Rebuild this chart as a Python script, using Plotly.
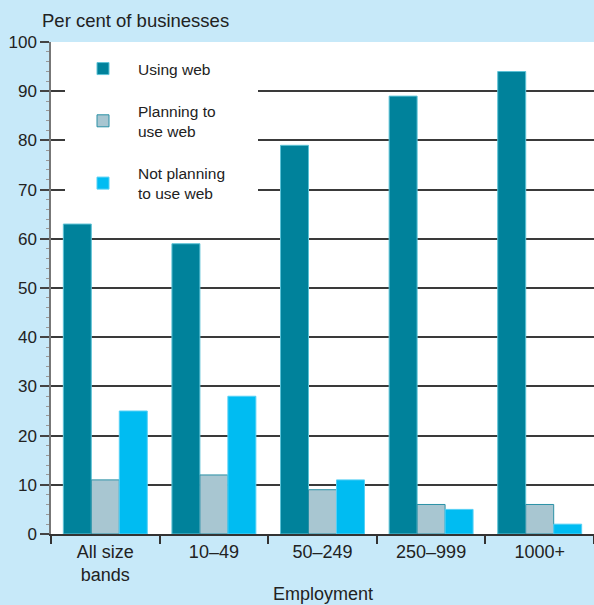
import plotly.graph_objects as go

categories = ["All size<br>bands", "10–49", "50–249", "250–999", "1000+"]
using_web = [63, 59, 79, 89, 94]
planning = [11, 12, 9, 6, 6]
not_planning = [25, 28, 11, 5, 2]
y_ticks = [0, 10, 20, 30, 40, 50, 60, 70, 80, 90, 100]

BG = "#c7e9f9"
FONT = "Liberation Sans, Arial, sans-serif"
W, H = 594, 605
ML, MR, MT, MB = 51, 0, 42, 71
PW = W - ML - MR
PH = H - MT - MB

def px_x(p):
    return (p - ML) / PW

def px_y(p):
    return 1 - (p - MT) / PH

fig = go.Figure()
fig.add_trace(go.Bar(x=categories, y=using_web, name="Using web", legendgroup="a",
                     marker=dict(color="#00829b", line=dict(color="#5ec3d6", width=1))))
fig.add_trace(go.Bar(x=categories, y=planning, name="Planning to<br>use web", legendgroup="b",
                     marker=dict(color="#a8c6d1", line=dict(color="#2a90a6", width=1))))
fig.add_trace(go.Bar(x=categories, y=not_planning, name="Not planning<br>to use web", legendgroup="c",
                     marker=dict(color="#00bcf2", line=dict(color="#55d0f5", width=1))))

fig.update_layout(
    width=W, height=H,
    margin=dict(l=ML, r=MR, t=MT, b=MB, pad=0),
    paper_bgcolor=BG, plot_bgcolor="white",
    font=dict(family=FONT, color="#222222", size=17),
    barmode="group", bargap=0.227, bargroupgap=0,
    showlegend=True,
    legend=dict(
        x=px_x(68), y=px_y(52), xanchor="left", yanchor="top",
        bgcolor="rgba(0,0,0,0)", borderwidth=0,
        font=dict(size=15.5, family=FONT, color="#222222"),
        itemwidth=60, tracegroupgap=19, traceorder="grouped",
    ),
    xaxis=dict(
        range=[-0.5, 4.5], showgrid=False,
        ticks="outside", tickson="boundaries", ticklen=8, tickcolor="#333333", tickwidth=1.5,
        tickfont=dict(size=18, family=FONT, color="#222222"),
        showline=True, linecolor="#333333", linewidth=2,
        fixedrange=True,
    ),
    yaxis=dict(
        range=[0, 100], tickvals=y_ticks,
        showgrid=True, gridcolor="#3a3a3a", gridwidth=1.5,
        ticks="outside", ticklen=9, tickcolor="#444444", tickwidth=1.5,
        tickfont=dict(size=17, family=FONT, color="#222222"),
        showline=True, linecolor="#777777", linewidth=1.5,
        zeroline=False,
        minor=dict(dtick=2, ticks="outside", ticklen=3, tickcolor="#999999", tickwidth=1, showgrid=False),
        fixedrange=True,
    ),
    shapes=[
        dict(type="rect", xref="paper", yref="paper",
             x0=px_x(65), x1=px_x(258), y0=px_y(205), y1=px_y(44),
             fillcolor="white", line=dict(width=0), layer="above"),
    ],
    annotations=[
        dict(text="Per cent of businesses", xref="paper", yref="paper", x=0, y=1,
             xanchor="left", yanchor="middle", xshift=-11, yshift=22, showarrow=False,
             font=dict(size=18.5, family=FONT, color="#222222")),
        dict(text="Employment", xref="paper", yref="paper", x=0.5, y=0,
             xanchor="center", yanchor="middle", yshift=-60, showarrow=False,
             font=dict(size=18, family=FONT, color="#222222")),
    ],
)

fig.write_html("out.html")
